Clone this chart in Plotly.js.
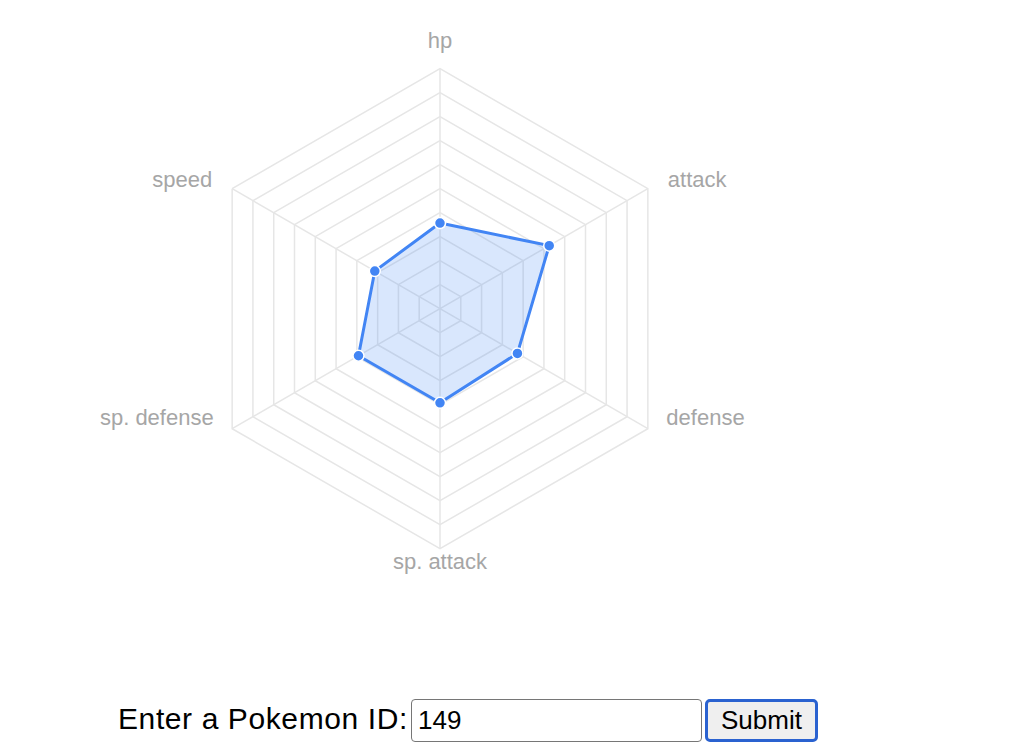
<!DOCTYPE html>
<html>
<head>
<meta charset="utf-8">
<script src="https://cdn.plot.ly/plotly-3.0.1.min.js"></script>
<style>
  html, body { margin: 0; padding: 0; background: #fff; width: 1016px; height: 742px; overflow: hidden; position: relative; }
  #chart { position: absolute; left: 0; top: 0; width: 1016px; height: 690px; }
  #lbl { position: absolute; left: 118px; top: 699px; font-family: "Liberation Sans", Arial, sans-serif; font-size: 30px; letter-spacing: 0.6px; line-height: 40px; color: #000; white-space: nowrap; }
  #pid { position: absolute; left: 411px; top: 699px; width: 291px; height: 43px; box-sizing: border-box; border: 1.5px solid #767676; border-radius: 4px; font-family: "Liberation Sans", Arial, sans-serif; font-size: 26px; padding: 0 0 0 6px; color: #000; background: #fff; }
  #btn { position: absolute; left: 705px; top: 699px; width: 113px; height: 43px; box-sizing: border-box; border: 3px solid #2a62d0; border-radius: 5px; background: #efefef; font-family: "Liberation Sans", Arial, sans-serif; font-size: 26px; color: #000; padding: 0; }
</style>
</head>
<body>
<div id="chart"></div>
<span id="lbl">Enter a Pokemon ID:</span>
<input id="pid" type="text" value="149">
<button id="btn">Submit</button>
<script>
// Data (Pokemon #149 base stats)
const statNames = ["hp", "attack", "defense", "sp. attack", "sp. defense", "speed"];
const statValues = [91, 134, 95, 100, 100, 80];
const maxStat = 255;
const ringCount = 10;

const closedNames = statNames.concat([statNames[0]]);
const closedValues = statValues.concat([statValues[0]]);

const blue = "rgb(66,133,244)";
const grid = "rgb(230,230,230)";
const labelColor = "#a6a6a6";

// Geometry of the radar (pixels in the 1016x690 plot div)
const W = 1016, H = 690;
const cx = 440, cy = 308.7, rad = 240, labelGap = 15;

function domainFor(radius) {
  return {
    x: [(cx - radius) / W, (cx + radius) / W],
    y: [1 - (cy + radius) / H, 1 - (cy - radius) / H]
  };
}

const trace = {
  type: "scatterpolar",
  subplot: "polar",
  r: closedValues,
  theta: closedNames,
  mode: "lines+markers",
  fill: "toself",
  fillcolor: "rgba(66,133,244,0.2)",
  line: { color: blue, width: 3 },
  marker: { color: blue, size: 11, line: { color: "#fff", width: 1.5 } },
  hoverinfo: "skip"
};

// Category labels: on a hidden, slightly larger concentric polar subplot
const labelTrace = {
  type: "scatterpolar",
  subplot: "polar2",
  r: statNames.map(() => maxStat),
  theta: statNames,
  text: statNames,
  mode: "markers+text",
  cliponaxis: false,
  marker: { size: [0, 9.6, 7.2, 0, 7.2, 9.6], opacity: 0 },
  textposition: ["top center", "middle right", "top right", "middle center", "top left", "middle left"],
  textfont: { family: "Liberation Sans, Arial, sans-serif", size: 22, color: labelColor },
  hoverinfo: "skip"
};

const layout = {
  width: W,
  height: H,
  margin: { l: 0, r: 0, t: 0, b: 0 },
  paper_bgcolor: "#fff",
  showlegend: false,
  polar: {
    domain: domainFor(rad),
    bgcolor: "rgba(0,0,0,0)",
    gridshape: "linear",
    radialaxis: {
      range: [0, maxStat],
      tick0: 0,
      dtick: maxStat / ringCount,
      showticklabels: false,
      ticks: "",
      showline: false,
      gridcolor: grid,
      gridwidth: 1.5
    },
    angularaxis: {
      rotation: 90,
      direction: "clockwise",
      gridcolor: grid,
      gridwidth: 1.5,
      showline: true,
      linecolor: grid,
      linewidth: 1.5,
      ticks: "",
      showticklabels: false
    }
  },
  polar2: {
    domain: domainFor(rad + labelGap),
    bgcolor: "rgba(0,0,0,0)",
    radialaxis: { range: [0, maxStat], visible: false },
    angularaxis: { rotation: 90, direction: "clockwise", visible: false }
  }
};

Plotly.newPlot("chart", [trace, labelTrace], layout, { displayModeBar: false, staticPlot: true });
</script>
</body>
</html>
